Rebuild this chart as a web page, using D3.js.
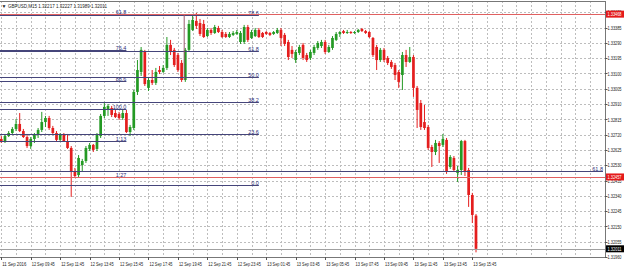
<!DOCTYPE html>
<html>
<head>
<meta charset="utf-8">
<script src="https://cdn.jsdelivr.net/npm/d3@7"></script>
<style>
body{margin:0;background:#fff}
svg{display:block}
text{font-family:"Liberation Sans","DejaVu Sans",sans-serif}
</style>
</head>
<body>
<div id="chart"></div>
<script>
// chart values
var symbolTitle = "GBPUSD,M15";
var opens = [1.32693,1.32674,1.32711,1.32730,1.32755,1.32786,1.32742,1.32705,1.32649,1.32693,1.32718,1.32749,1.32798,1.32823,1.32761,1.32730,1.32687,1.32718,1.32680,1.32637,
  1.32488,1.32469,1.32531,1.32556,1.32631,1.32656,1.32631,1.32711,1.32836,1.32873,1.32885,1.32854,1.32848,1.32823,1.32854,1.32736,1.32761,1.32985,1.33109,1.33233,
  1.33010,1.33059,1.33041,1.33121,1.33109,1.33134,1.33277,1.33246,1.33214,1.33165,1.33059,1.33246,1.33370,1.33426,1.33413,1.33407,1.33332,1.33370,1.33351,1.33382,
  1.33357,1.33345,1.33326,1.33339,1.33345,1.33295,1.33295,1.33388,1.33320,1.33332,1.33370,1.33351,1.33357,1.33351,1.33345,1.33351,1.33370,1.33339,1.33295,1.33246,
  1.33183,1.33227,1.33277,1.33214,1.33196,1.33227,1.33258,1.33270,1.33295,1.33233,1.33258,1.33308,1.33345,1.33363,1.33351,1.33357,1.33351,1.33357,1.33376,1.33363,
  1.33357,1.33320,1.33264,1.33183,1.33246,1.33196,1.33171,1.33152,1.33109,1.33090,1.33214,1.33171,1.33202,1.33010,1.32916,1.32798,1.32767,1.32643,1.32612,1.32668,
  1.32656,1.32687,1.32519,1.32575,1.32482,1.32500,1.32680,1.32500,1.32345,1.32217];
var highs = [1.32711,1.32724,1.32742,1.32767,1.32817,1.32854,1.32755,1.32724,1.32705,1.32730,1.32761,1.32861,1.32836,1.32836,1.32774,1.32742,1.32730,1.32730,1.32724,1.32649,
  1.32513,1.32593,1.32569,1.32649,1.32668,1.32662,1.32730,1.32848,1.32923,1.32910,1.32898,1.32873,1.32861,1.32873,1.32873,1.32780,1.32997,1.33183,1.33264,1.33246,
  1.33078,1.33121,1.33134,1.33146,1.33152,1.33326,1.33308,1.33258,1.33227,1.33183,1.33258,1.33432,1.33469,1.33475,1.33438,1.33432,1.33382,1.33382,1.33401,1.33395,
  1.33370,1.33357,1.33357,1.33363,1.33370,1.33363,1.33401,1.33401,1.33370,1.33382,1.33382,1.33357,1.33363,1.33357,1.33363,1.33382,1.33382,1.33351,1.33308,1.33270,
  1.33246,1.33277,1.33289,1.33227,1.33246,1.33277,1.33301,1.33308,1.33308,1.33277,1.33332,1.33357,1.33363,1.33370,1.33370,1.33363,1.33363,1.33376,1.33382,1.33370,
  1.33363,1.33326,1.33277,1.33258,1.33258,1.33208,1.33183,1.33165,1.33121,1.33233,1.33246,1.33264,1.33214,1.33022,1.32935,1.32904,1.32780,1.32656,1.32687,1.32680,
  1.32724,1.32699,1.32593,1.32587,1.32525,1.32687,1.32687,1.32513,1.32358,1.32227];
var lows = [1.32668,1.32668,1.32705,1.32724,1.32742,1.32736,1.32699,1.32637,1.32631,1.32668,1.32699,1.32736,1.32767,1.32749,1.32724,1.32680,1.32674,1.32674,1.32631,1.32333,
  1.32451,1.32451,1.32488,1.32544,1.32618,1.32612,1.32618,1.32699,1.32823,1.32836,1.32829,1.32823,1.32811,1.32811,1.32730,1.32711,1.32749,1.32966,1.33084,1.33022,
  1.32991,1.33028,1.33028,1.33096,1.33103,1.33121,1.33214,1.33140,1.33109,1.33047,1.33047,1.33233,1.33363,1.33376,1.33332,1.33320,1.33326,1.33339,1.33345,1.33351,
  1.33320,1.33320,1.33320,1.33332,1.33339,1.33283,1.33283,1.33295,1.33314,1.33326,1.33320,1.33320,1.33339,1.33332,1.33339,1.33345,1.33270,1.33270,1.33183,1.33196,
  1.33165,1.33214,1.33183,1.33171,1.33183,1.33214,1.33246,1.33258,1.33221,1.33227,1.33246,1.33301,1.33326,1.33345,1.33345,1.33345,1.33345,1.33351,1.33357,1.33345,
  1.33320,1.33202,1.33121,1.33171,1.33171,1.33152,1.33128,1.33059,1.33010,1.32997,1.33140,1.33165,1.32954,1.32761,1.32749,1.32749,1.32625,1.32519,1.32593,1.32544,
  1.32643,1.32476,1.32507,1.32488,1.32426,1.32469,1.32463,1.32271,1.32171,1.31989];
var closes = [1.32674,1.32711,1.32730,1.32755,1.32786,1.32742,1.32705,1.32649,1.32693,1.32718,1.32749,1.32798,1.32823,1.32761,1.32730,1.32687,1.32718,1.32680,1.32637,1.32488,
  1.32463,1.32575,1.32556,1.32637,1.32656,1.32625,1.32718,1.32836,1.32892,1.32898,1.32842,1.32829,1.32823,1.32854,1.32736,1.32767,1.32985,1.33121,1.33246,1.33034,
  1.33059,1.33041,1.33109,1.33109,1.33134,1.33277,1.33233,1.33152,1.33121,1.33059,1.33246,1.33407,1.33432,1.33395,1.33345,1.33326,1.33370,1.33351,1.33388,1.33357,
  1.33326,1.33326,1.33345,1.33351,1.33357,1.33351,1.33388,1.33308,1.33357,1.33370,1.33326,1.33326,1.33345,1.33339,1.33357,1.33370,1.33320,1.33283,1.33202,1.33221,
  1.33233,1.33264,1.33196,1.33183,1.33233,1.33264,1.33289,1.33295,1.33233,1.33264,1.33320,1.33345,1.33357,1.33351,1.33357,1.33351,1.33357,1.33370,1.33363,1.33351,
  1.33326,1.33214,1.33183,1.33246,1.33183,1.33165,1.33140,1.33090,1.33047,1.33214,1.33171,1.33202,1.33010,1.32873,1.32767,1.32761,1.32637,1.32612,1.32668,1.32649,
  1.32693,1.32488,1.32581,1.32500,1.32500,1.32680,1.32488,1.32345,1.32221,1.32011];

var timeLabels = ["11 Sep 2016","12 Sep 09:45","12 Sep 11:45","12 Sep 13:45","12 Sep 15:45","12 Sep 17:45","12 Sep 19:45","12 Sep 21:45","12 Sep 23:45",
  "13 Sep 01:45","13 Sep 03:45","13 Sep 05:45","13 Sep 07:45","13 Sep 09:45","13 Sep 11:45","13 Sep 13:45","13 Sep 15:45"];
var priceTicks = [1.31960,1.32055,1.32150,1.32245,1.32340,1.32435,1.32530,1.32625,1.32720,1.32815,1.32910,1.33005,1.33100,1.33195,1.33290,1.33385,1.33480];

// fibonacci objects
var fibALevels = [61.8,76.4,88.6,100,112.8,127.2];
var fibALabels = ["61.8","76.4","88.6","100.0","1.13","1.27"];
var fibAPrice0 = 1.34424, fibAPrice100 = 1.32879, fibAEndBar = 34;
var fibBLevels = [0,23.6,38.2,50,61.8,78.6];
var fibBLabels = ["0.0","23.6","38.2","50.0","61.8","78.6"];
var fibBPrice0 = 1.32407, fibBPrice100 = 1.33749, fibBEndBar = 70;
var fibCPrices = [1.32494], fibCLabels = ["61.8"], fibCEndBar = 163.5;
var anchorLine = [49.7, 1.33468, 1.33059]; // bar, top price, bottom price
var alertPrices = [1.33468, 1.32457];
var bidPrice = closes[closes.length-1];

var width = 625, height = 269,
    plotRight = 605, plotTop = 1, plotBottom = 257;

var svg = d3.select("#chart").append("svg")
    .attr("width", width)
    .attr("height", height);

var x = d3.scaleLinear().domain([0, 129]).range([1.3, 476]);
var y = d3.scaleLinear().domain([1.31960, 1.33480]).range([257, 12.2]);

svg.append("clipPath").attr("id","plot")
  .append("rect").attr("x",0).attr("y",plotTop).attr("width",plotRight).attr("height",plotBottom-plotTop);

var plot = svg.append("g").attr("clip-path","url(#plot)");

// grid: horizontal at price ticks, vertical every hour (4 bars)
plot.selectAll(".hgrid").data(priceTicks).enter().append("line")
    .attr("x1",0).attr("x2",plotRight)
    .attr("y1",function(d){return Math.round(y(d))+0.5;})
    .attr("y2",function(d){return Math.round(y(d))+0.5;})
    .attr("stroke","#bdbdbd").attr("stroke-dasharray","2,2");

plot.selectAll(".vgrid").data(d3.range(0, 165, 4)).enter().append("line")
    .attr("x1",function(d){return Math.round(x(d))+0.5;})
    .attr("x2",function(d){return Math.round(x(d))+0.5;})
    .attr("y1",plotTop).attr("y2",plotBottom)
    .attr("stroke","#bdbdbd").attr("stroke-dasharray","2,2");

// candles
var bars = d3.range(opens.length).map(function(i){
  return {i:i, o:opens[i], h:highs[i], l:lows[i], c:closes[i]};
});
var up = "#249a24", down = "#e41e1e";

plot.selectAll(".wick").data(bars).enter().append("line")
    .attr("x1",function(d){return x(d.i);})
    .attr("x2",function(d){return x(d.i);})
    .attr("y1",function(d){return y(d.h);})
    .attr("y2",function(d){return y(d.l);})
    .attr("stroke",function(d){return d.c>=d.o?up:down;})
    .attr("stroke-width",1);

plot.selectAll(".body").data(bars).enter().append("rect")
    .attr("x",function(d){return x(d.i)-1.35;})
    .attr("width",2.7)
    .attr("y",function(d){return y(Math.max(d.o,d.c));})
    .attr("height",function(d){return Math.max(1, Math.abs(y(d.o)-y(d.c)));})
    .attr("fill",function(d){return d.c>=d.o?up:down;});

// fibo levels
var fibColor = "#45457a";
function drawFib(prices, labels, endBar){
  var endX = x(endBar);
  plot.selectAll(null).data(prices).enter().append("line")
      .attr("x1",0).attr("x2",endX)
      .attr("y1",function(d){return Math.round(y(d))+0.5;})
      .attr("y2",function(d){return Math.round(y(d))+0.5;})
      .attr("stroke",fibColor).attr("stroke-width",1);
  plot.selectAll(null).data(prices).enter().append("text")
      .attr("x",endX).attr("y",function(d){return Math.round(y(d))-0.3;})
      .attr("text-anchor","end")
      .attr("font-size","5.5px").attr("fill","#2e2e78")
      .text(function(d,i){return labels[i];});
}
drawFib(fibALevels.map(function(l){return fibAPrice0 + (fibAPrice100-fibAPrice0)*l/100;}), fibALabels, fibAEndBar);
drawFib(fibBLevels.map(function(l){return fibBPrice0 + (fibBPrice100-fibBPrice0)*l/100;}), fibBLabels, fibBEndBar);
drawFib(fibCPrices, fibCLabels, fibCEndBar);

plot.append("line")
    .attr("x1",x(anchorLine[0])).attr("x2",x(anchorLine[0]))
    .attr("y1",y(anchorLine[1])).attr("y2",y(anchorLine[2]))
    .attr("stroke","#9a5a6e").attr("stroke-width",1);

// red price lines
plot.selectAll(".alert").data(alertPrices).enter().append("line")
    .attr("x1",0).attr("x2",plotRight)
    .attr("y1",function(d){return Math.round(y(d))+0.5;})
    .attr("y2",function(d){return Math.round(y(d))+0.5;})
    .attr("stroke","#e06060").attr("stroke-width",1);

// bid line
plot.append("line")
    .attr("x1",0).attr("x2",plotRight)
    .attr("y1",Math.round(y(bidPrice))+0.5).attr("y2",Math.round(y(bidPrice))+0.5)
    .attr("stroke","#a0a0a0");

// frame
svg.append("line").attr("x1",0).attr("x2",plotRight+0.5).attr("y1",plotTop+0.5).attr("y2",plotTop+0.5).attr("stroke","#777");
svg.append("line").attr("x1",0).attr("x2",plotRight+0.5).attr("y1",plotBottom+0.5).attr("y2",plotBottom+0.5).attr("stroke","#777");
svg.append("line").attr("x1",plotRight+0.5).attr("x2",plotRight+0.5).attr("y1",plotTop).attr("y2",plotBottom+1).attr("stroke","#777");

// right price axis
var ax = svg.append("g");
ax.selectAll(".tick").data(priceTicks).enter().append("line")
    .attr("x1",plotRight).attr("x2",plotRight+2.5)
    .attr("y1",function(d){return Math.round(y(d))+0.5;})
    .attr("y2",function(d){return Math.round(y(d))+0.5;})
    .attr("stroke","#555");
ax.selectAll(".plab").data(priceTicks).enter().append("text")
    .attr("x",plotRight+2.5).attr("y",function(d){return y(d)+2.2;})
    .attr("font-size","5.5px").attr("fill","#222")
    .attr("textLength",14).attr("lengthAdjust","spacingAndGlyphs")
    .text(function(d){return d.toFixed(5);});

function priceTag(p, bg){
  var g = ax.append("g");
  g.append("rect").attr("x",plotRight+1).attr("y",y(p)-3.5).attr("width",width-plotRight-2).attr("height",7).attr("fill",bg);
  g.append("text").attr("x",plotRight+2.5).attr("y",y(p)+2.2)
    .attr("font-size","5.5px").attr("fill","#fff")
    .attr("textLength",14).attr("lengthAdjust","spacingAndGlyphs")
    .text(p.toFixed(5));
}
alertPrices.forEach(function(p){priceTag(p,"#e41a1a");});
priceTag(bidPrice,"#000");

// bottom time axis
svg.selectAll(".ttick").data(timeLabels).enter().append("line")
    .attr("x1",function(d,i){return Math.round(x(i*8))+0.5;})
    .attr("x2",function(d,i){return Math.round(x(i*8))+0.5;})
    .attr("y1",plotBottom).attr("y2",plotBottom+3)
    .attr("stroke","#555");
svg.selectAll(".tlab").data(timeLabels).enter().append("text")
    .attr("x",function(d,i){return x(i*8)+1;})
    .attr("y",266)
    .attr("font-size","5.5px").attr("fill","#222")
    .attr("textLength",function(d,i){return i==0?24:23;})
    .attr("lengthAdjust","spacingAndGlyphs")
    .text(function(d){return d;});

// title
svg.append("text").attr("x",1.5).attr("y",7.5).attr("font-size","5px").attr("fill","#222").text("\u25BC");
svg.append("text").attr("x",8).attr("y",8)
    .attr("font-size","6px").attr("fill","#222")
    .attr("textLength",99).attr("lengthAdjust","spacingAndGlyphs")
    .text(symbolTitle+"  "+[opens[129],highs[129],lows[129],closes[129]].map(function(v){return v.toFixed(5);}).join(" "));
</script>
</body>
</html>
